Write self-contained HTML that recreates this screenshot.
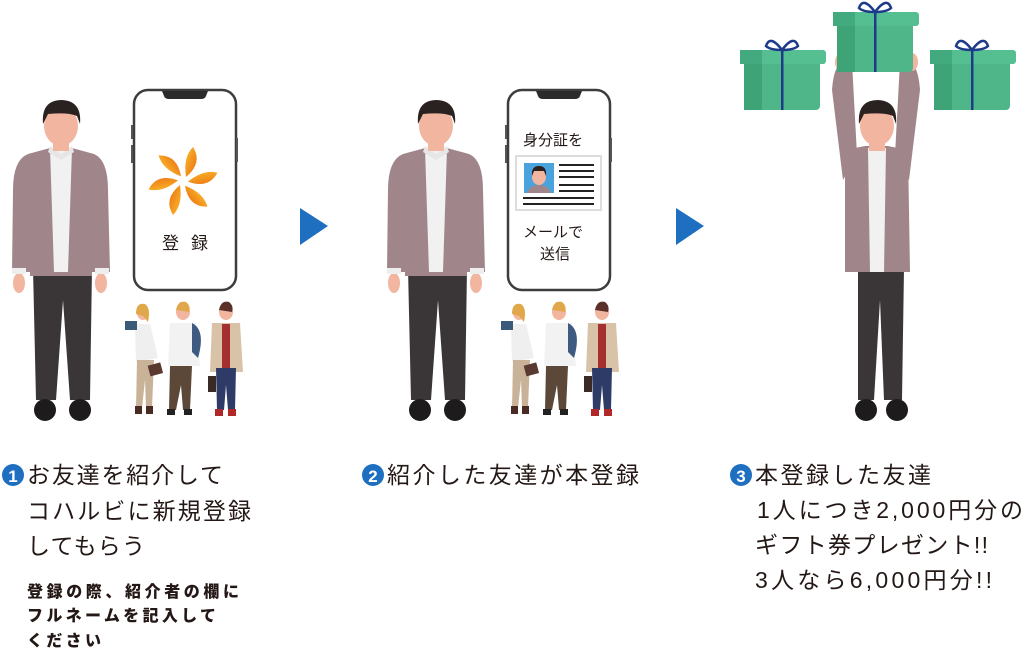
<!DOCTYPE html>
<html><head><meta charset="utf-8"><style>
html,body{margin:0;padding:0;background:#fff;}
svg{display:block;}
text{font-family:"Liberation Sans","Noto Sans CJK JP",sans-serif;fill:#231815;}
.b{font-weight:900;}
</style></head><body>
<svg width="1024" height="652" viewBox="0 0 1024 652" xmlns="http://www.w3.org/2000/svg">
<defs>
 <linearGradient id="pg" x1="0" y1="0" x2="1" y2="1"><stop offset="0" stop-color="#fbc02d"/><stop offset="1" stop-color="#ea6a10"/></linearGradient>
 <g id="man">
  <path d="M33 268 L92 268 L90 400 L70 400 L63 300 L56 400 L36 400 Z" fill="#3a3536"/>
  <ellipse cx="45" cy="410" rx="11" ry="11" fill="#1e1b1c"/>
  <ellipse cx="80" cy="410" rx="11" ry="11" fill="#1e1b1c"/>
  <ellipse cx="19" cy="283" rx="6" ry="10" fill="#f2b5a0"/>
  <ellipse cx="101" cy="283" rx="6" ry="10" fill="#f2b5a0"/>
  <path d="M28 154 L50 148 L72 148 L94 154 Q108 160 108 190 L110 272 L92 272 L92 276 L30 276 L30 272 L12 272 L13 190 Q13 160 28 154 Z" fill="#a0868a"/>
  <rect x="12" y="268" width="14" height="6" fill="#eee"/>
  <rect x="95" y="268" width="14" height="6" fill="#eee"/>
  <path d="M50 148 L72 148 L68 272 L54 272 Z" fill="#f1f1f1"/>
  <path d="M50 146 L61 154 L72 146 L74 152 L61 160 L48 152Z" fill="#e6e6e6"/>
  <rect x="53" y="135" width="16" height="16" fill="#f2b5a0"/>
  <ellipse cx="61" cy="126" rx="17" ry="20" fill="#f2b5a0"/>
  <path d="M43 124 Q41 100 62 100 Q82 101 80 124 L77 116 Q68 112 48 114 Z" fill="#2a2220"/>
 </g>
 <g id="phone">
  <rect x="0" y="0" width="102" height="200" rx="14" fill="#fff" stroke="#3d3d3d" stroke-width="2.5"/>
  <path d="M28 1 L74 1 L72 6 Q71 9 67 9 L35 9 Q31 9 30 6 Z" fill="#2b2b2b"/>
  <rect x="-3" y="35" width="2" height="14" fill="#555"/>
  <rect x="-3" y="55" width="2" height="18" fill="#555"/>
  <rect x="102" y="48" width="2" height="24" fill="#555"/>
 </g>
 <g id="crowd">
  <ellipse cx="143" cy="313" rx="6" ry="7" fill="#f2b5a0"/>
  <path d="M136 314 Q136 302 145 304 Q151 308 148 322 L143 316 Z" fill="#e0a84b"/>
  <path d="M135 324 L150 324 L158 358 L136 362 Z" fill="#efefef"/>
  <rect x="125" y="321" width="12" height="9" fill="#3b5a7a"/>
  <path d="M137 360 L154 360 L152 408 L146 408 L145 380 L142 408 L136 408 Z" fill="#c9b398"/>
  <rect x="149" y="364" width="13" height="11" fill="#5a3a30" transform="rotate(-15 155 370)"/>
  <rect x="135" y="406" width="7" height="8" fill="#4a2a25"/><rect x="146" y="406" width="7" height="8" fill="#4a2a25"/>
  <ellipse cx="183" cy="312" rx="7" ry="8" fill="#f2b5a0"/>
  <path d="M176 310 Q178 300 186 302 Q191 306 189 312 Z" fill="#e0a84b"/>
  <path d="M170 323 L196 323 L200 366 L168 366 Z" fill="#f2f2f2"/>
  <path d="M192 323 Q206 330 198 358 L192 352 Z" fill="#3e5a80"/>
  <path d="M170 366 L192 366 L190 410 L183 410 L181 385 L176 410 L169 410 Z" fill="#5c4838"/>
  <rect x="167" y="409" width="8" height="6" fill="#222"/><rect x="184" y="409" width="8" height="6" fill="#222"/>
  <ellipse cx="226" cy="312" rx="7" ry="8" fill="#f2b5a0"/>
  <path d="M219 310 Q221 300 229 302 Q234 306 232 312 Z" fill="#5a3028"/>
  <path d="M212 323 L240 323 L243 372 L210 372 Z" fill="#d9c3a8"/>
  <path d="M222 324 L230 324 L230 370 L222 370 Z" fill="#a43030"/>
  <path d="M216 368 L236 368 L235 410 L228 410 L226 385 L224 410 L217 410 Z" fill="#2d3b66"/>
  <rect x="208" y="376" width="8" height="16" fill="#3a2a25"/>
  <rect x="215" y="409" width="8" height="7" fill="#b02828"/><rect x="228" y="409" width="8" height="7" fill="#b02828"/>
 </g>
 <g id="gift">
  <rect x="4" y="16" width="76" height="54" rx="4" fill="#4fb68a"/>
  <rect x="4" y="16" width="18" height="54" fill="#3ea478"/>
  <rect x="0" y="10" width="86" height="14" rx="3" fill="#56bf92"/>
  <rect x="0" y="10" width="22" height="14" fill="#42aa7e"/>
  <rect x="41" y="10" width="2.5" height="60" fill="#1e3b8a"/>
  <path d="M42 10 Q30 -6 26 6 Q30 10 42 10 Q54 -6 58 6 Q54 10 42 10" fill="none" stroke="#1e3b8a" stroke-width="2.5"/>
 </g>
 <path id="petal" d="M3 -4 Q0 -24 10 -34 Q20 -18 3 -4Z" fill="url(#pg)"/>
</defs>

<use href="#man"/>
<use href="#phone" x="134" y="90"/>
<g transform="translate(183 181)">
 <use href="#petal"/>
 <use href="#petal" transform="rotate(60)"/>
 <use href="#petal" transform="rotate(120)"/>
 <use href="#petal" transform="rotate(180)"/>
 <use href="#petal" transform="rotate(240)"/>
 <use href="#petal" transform="rotate(300)"/>
</g>
<text x="162" y="249" font-size="17" textLength="46">登 録</text>
<use href="#crowd"/>

<path d="M300 208 L328 226 L300 245 Z" fill="#1e6fc0"/>
<path d="M676 208 L704 226 L676 245 Z" fill="#1e6fc0"/>

<use href="#man" x="375"/>
<use href="#phone" x="508" y="90"/>
<text x="523" y="145" font-size="15">身分証を</text>
<rect x="516" y="156" width="85" height="54" fill="#fff" stroke="#ddd" stroke-width="2"/>
<rect x="524" y="163" width="30" height="30" fill="#4aa3dc"/>
<ellipse cx="539" cy="177" rx="7" ry="8" fill="#f2b5a0"/>
<path d="M532 176 Q531 166 539 166 Q547 166 546 176 L544 171 L534 171Z" fill="#2a2220"/>
<path d="M527 193 Q530 185 539 185 Q548 185 551 193Z" fill="#a0868a"/>
<g stroke="#222" stroke-width="2">
 <line x1="559" y1="165" x2="594" y2="165"/><line x1="559" y1="171" x2="594" y2="171"/><line x1="559" y1="177" x2="594" y2="177"/><line x1="559" y1="185" x2="594" y2="185"/><line x1="559" y1="191" x2="594" y2="191"/>
 <line x1="523" y1="198" x2="594" y2="198"/><line x1="523" y1="204" x2="594" y2="204"/>
</g>
<text x="523" y="237" font-size="15">メールで</text>
<text x="540" y="259" font-size="15">送信</text>
<use href="#crowd" x="376"/>

<g>
 <path d="M832 90 Q834 62 845 62 L852 62 L857 155 L843 180 Z" fill="#a0868a"/>
 <path d="M920 90 Q918 62 907 62 L900 62 L895 155 L909 180 Z" fill="#a0868a"/>
 <ellipse cx="841" cy="62" rx="6" ry="9" fill="#f2b5a0"/>
 <ellipse cx="912" cy="62" rx="6" ry="9" fill="#f2b5a0"/>
 <path d="M858 268 L904 268 L902 400 L884 400 L880 300 L874 400 L858 400 Z" fill="#3a3536"/>
 <ellipse cx="866" cy="410" rx="11" ry="11" fill="#1e1b1c"/>
 <ellipse cx="897" cy="410" rx="11" ry="11" fill="#1e1b1c"/>
 <path d="M845 150 L865 146 L888 146 L908 150 L910 272 L845 272 Z" fill="#a0868a"/>
 <path d="M868 148 L886 148 L884 272 L870 272 Z" fill="#f1f1f1"/>
 <rect x="869" y="135" width="16" height="16" fill="#f2b5a0"/>
 <ellipse cx="877" cy="126" rx="17" ry="20" fill="#f2b5a0"/>
 <path d="M859 124 Q857 100 878 100 Q898 101 896 124 L893 116 Q884 112 864 114 Z" fill="#2a2220"/>
</g>
<use href="#gift" x="740" y="40"/>
<use href="#gift" x="833" y="2"/>
<use href="#gift" x="930" y="40"/>

<circle cx="13" cy="475" r="11" fill="#1e6fc0"/>
<text x="13" y="482" font-size="17" class="b" text-anchor="middle" style="fill:#fff">1</text>
<text x="27" y="483" font-size="23" textLength="196">お友達を紹介して</text>
<text x="27" y="519" font-size="23" textLength="224">コハルビに新規登録</text>
<text x="27" y="554" font-size="23" textLength="118">してもらう</text>
<text x="27" y="597" font-size="16" class="b" textLength="212">登録の際、紹介者の欄に</text>
<text x="27" y="621" font-size="16" class="b" textLength="189">フルネームを記入して</text>
<text x="27" y="646" font-size="16" class="b" textLength="74">ください</text>

<circle cx="373" cy="475" r="11" fill="#1e6fc0"/>
<text x="373" y="482" font-size="17" class="b" text-anchor="middle" style="fill:#fff">2</text>
<text x="387" y="483" font-size="23" textLength="252">紹介した友達が本登録</text>

<circle cx="741" cy="475" r="11" fill="#1e6fc0"/>
<text x="741" y="482" font-size="17" class="b" text-anchor="middle" style="fill:#fff">3</text>
<text x="755" y="483" font-size="23" textLength="176">本登録した友達</text>
<text x="757" y="518" font-size="23" textLength="266">1人につき2,000円分の</text>
<text x="755" y="553" font-size="23" textLength="233">ギフト券プレゼント!!</text>
<text x="755" y="588" font-size="23" textLength="237">3人なら6,000円分!!</text>
</svg>
</body></html>
